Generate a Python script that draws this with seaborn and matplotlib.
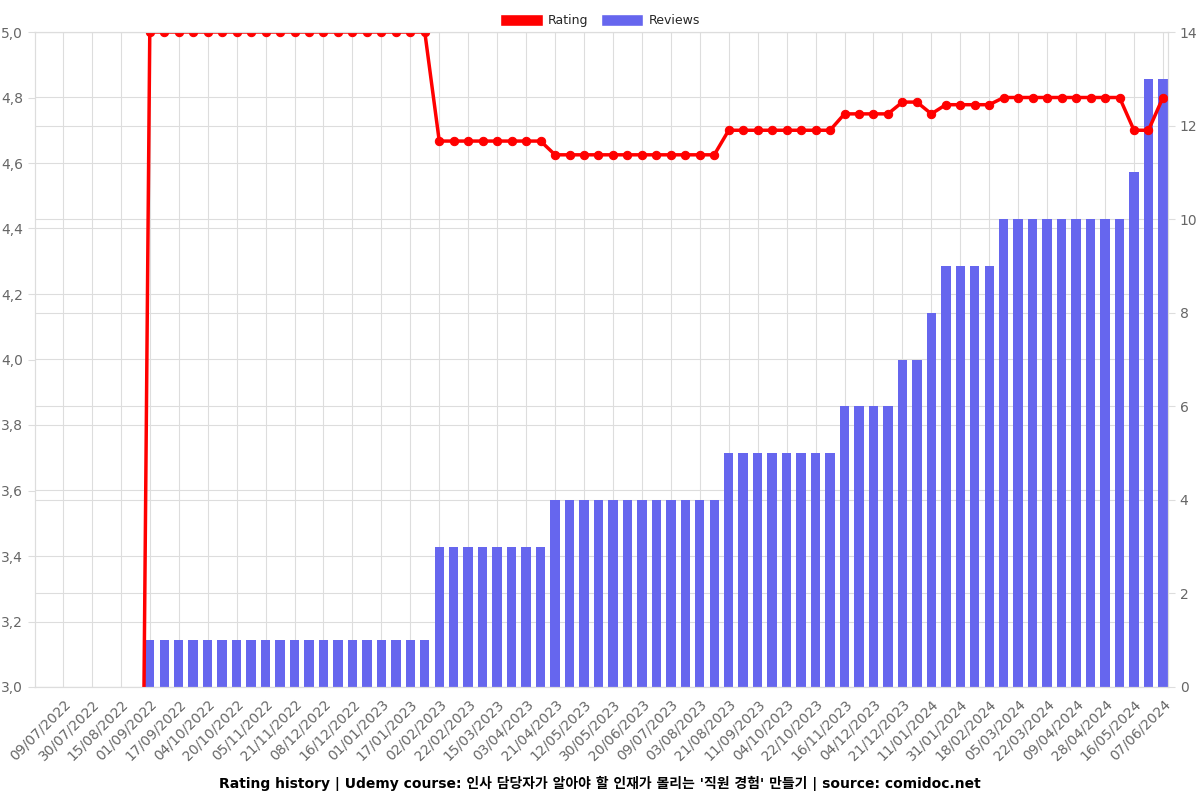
import matplotlib
matplotlib.use("Agg")
import matplotlib.pyplot as plt
import seaborn as sns
import numpy as np
import pandas as pd
from matplotlib.patches import Patch
from matplotlib.ticker import FuncFormatter, MultipleLocator

# ---- data ----
tick_labels = ["09/07/2022", "30/07/2022", "15/08/2022", "01/09/2022", "17/09/2022",
               "04/10/2022", "20/10/2022", "05/11/2022", "21/11/2022", "08/12/2022",
               "16/12/2022", "01/01/2023", "17/01/2023", "02/02/2023", "22/02/2023",
               "15/03/2023", "03/04/2023", "21/04/2023", "12/05/2023", "30/05/2023",
               "20/06/2023", "09/07/2023", "03/08/2023", "21/08/2023", "11/09/2023",
               "04/10/2023", "22/10/2023", "16/11/2023", "04/12/2023", "21/12/2023",
               "11/01/2024", "31/01/2024", "18/02/2024", "05/03/2024", "22/03/2024",
               "09/04/2024", "28/04/2024", "16/05/2024", "07/06/2024"]

reviews = ([0] * 6 + [1] * 20 + [3] * 8 + [4] * 12 + [5] * 8 + [6] * 4 + [7] * 2 +
           [8] * 1 + [9] * 4 + [10] * 9 + [11] * 1 + [13] * 2)
ratings = ([0.0] * 6 + [5.0] * 20 + [4.667] * 8 + [4.625] * 12 + [4.7] * 8 +
           [4.75] * 4 + [4.786] * 2 + [4.75] * 1 + [4.778] * 4 + [4.8] * 9 +
           [4.7] * 2 + [4.8] * 1)

title = ("Rating history | Udemy course: 인사 담당자가 알아야 할 인재가 몰리는 "
         "'직원 경험' 만들기 | source: comidoc.net")

pos = list(range(len(reviews)))
df = pd.DataFrame({"pos": pos, "reviews": reviews, "rating": ratings})

# ---- figure ----
sns.set_style("white")
plt.rcParams["font.family"] = ["DejaVu Sans", "Noto Sans CJK KR"]

fig = plt.figure(figsize=(12, 8), dpi=100)
ax = fig.add_axes([35 / 1200, 1 - 687 / 800, (1168 - 35) / 1200, (687 - 32) / 800])
ax2 = ax.twinx()

bar_color = "#6666EE"
line_color = "#FF0000"
grid_color = "#DDDDDD"
tick_color = "#666666"

r_min, r_max = 3.0, 5.0
n_max = 14

sns.barplot(data=df, x="pos", y="reviews", ax=ax2, color=bar_color,
            width=0.65, saturation=1, order=pos, edgecolor="none", linewidth=0)
sns.lineplot(data=df, x="pos", y="rating", ax=ax, color=line_color,
             linewidth=2.5, marker="o", markersize=6, markeredgecolor=line_color)

ax.set_zorder(ax2.get_zorder() + 1)
ax.patch.set_visible(False)

xlim = (-1.93, 76.35)
ax.set_xlim(*xlim)
ax2.set_xlim(*xlim)

ax.set_ylim(r_min, r_max)
ax.yaxis.set_major_locator(MultipleLocator(0.2))
ax.yaxis.set_major_formatter(FuncFormatter(lambda v, p: f"{v:.1f}".replace(".", ",")))
ax2.set_ylim(0, n_max)
ax2.yaxis.set_major_locator(MultipleLocator(2))

ticks = list(range(0, len(pos), 2))
ax.set_xticks(ticks)
ax.set_xticklabels(tick_labels, rotation=45, ha="right", rotation_mode="anchor")
ax2.set_xticks(ticks)

# grids behind the bars (on the bar axes)
ax.grid(False)
ax2.grid(True, axis="y", color=grid_color, linewidth=0.8)
ax2.set_axisbelow(True)
for v in np.arange(r_min, r_max + 0.001, 0.2):
    ax2.axhline((v - r_min) / (r_max - r_min) * n_max, color=grid_color,
                linewidth=0.8, zorder=0.5)
for t in ticks:
    ax2.axvline(t, color=grid_color, linewidth=0.8, zorder=0.5)

for a in (ax, ax2):
    a.set_xlabel("")
    a.set_ylabel("")
    a.tick_params(colors=tick_color, labelsize=10, length=5, width=0.8)
    a.tick_params(axis="both", which="major", color=grid_color)
    for s in a.spines.values():
        s.set_color(grid_color)
        s.set_linewidth(0.8)
ax2.tick_params(axis="x", labelbottom=False)
ax.tick_params(axis="x", pad=2)

handles = [Patch(facecolor=line_color, label="Rating"),
           Patch(facecolor=bar_color, label="Reviews")]
fig.legend(handles=handles, loc="upper center", bbox_to_anchor=(0.5, 0.997),
           ncol=2, frameon=False, fontsize=9, handlelength=3.4, handleheight=1.1,
           columnspacing=1.0, handletextpad=0.4)

fig.text(0.5, 1 - 783 / 800, title, ha="center", va="center",
         fontsize=10, fontweight="bold", color="black")

fig.savefig("out.png", dpi=100)
